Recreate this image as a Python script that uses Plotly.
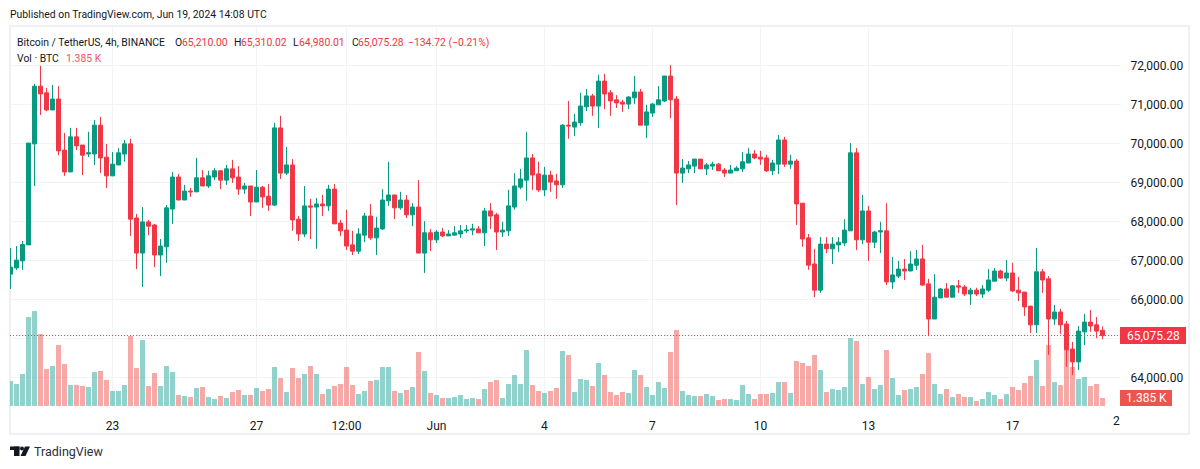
# Bitcoin / TetherUS 4h candles with volume, TradingView snapshot style
import plotly.graph_objects as go

# OHLC and volume, one value per 4h bar
opens = [66650, 66810, 66990, 67400, 69990, 71470, 71300, 70860, 71140, 69830,
         69270, 70170, 69960, 69730, 69730, 70470, 69650, 69170, 69450, 69730,
         69990, 68090, 67190, 67990, 67910, 67140, 67350, 68320, 69140, 68550,
         68780, 68760, 69120, 68910, 69140, 69300, 69060, 69350, 69140, 68830,
         68910, 68500, 68880, 68650, 68420, 70400, 69240, 69450, 68060, 67680,
         68400, 68370, 68450, 68400, 68830, 67960, 67780, 67400, 67240, 67650,
         68140, 67580, 67810, 68530, 68680, 68350, 68550, 68170, 68370, 67190,
         67710, 67530, 67730, 67630, 67650, 67680, 67760, 67780, 67810, 67710,
         68270, 68170, 67730, 67760, 68370, 68880, 69060, 69630, 69220, 68810,
         69190, 69040, 68940, 70470, 70420, 70530, 70940, 71220, 70960, 71600,
         71300, 71120, 71060, 71010, 71170, 71320, 70470, 70780, 70990, 71090,
         71730, 71140, 69240, 69350, 69420, 69600, 69350, 69420, 69470, 69320,
         69240, 69300, 69350, 69500, 69730, 69650, 69630, 69300, 69470, 70090,
         69470, 69550, 68470, 67580, 66910, 66240, 67420, 67300, 67400, 67450,
         67760, 69760, 67530, 68270, 67470, 67730, 67760, 66450, 66600, 66780,
         66730, 66880, 67040, 66400, 65500, 66040, 66270, 66060, 66350, 66320,
         66140, 66240, 66140, 66240, 66470, 66730, 66550, 66680, 66240, 66190,
         65830, 65350, 66710, 66530, 65500, 65680, 65370, 64730, 64400, 65170,
         65420, 65350, 65210.00]
highs = [67320, 67370, 67500, 70010, 71530, 71990, 71420, 71500, 71470, 70270,
         70400, 70400, 69960, 70300, 70600, 70680, 69990, 69780, 69880, 70090,
         70120, 68190, 68370, 68040, 67940, 67550, 68420, 69270, 69220, 68940,
         68860, 69630, 69320, 69300, 69370, 69300, 69450, 69580, 69420, 68990,
         68910, 69320, 68910, 68960, 70530, 70710, 69910, 69600, 68140, 68910,
         68580, 68600, 68680, 68940, 68960, 68040, 68300, 67760, 67830, 68220,
         68450, 68120, 68830, 69530, 68680, 68760, 68680, 68470, 69060, 68010,
         67810, 67780, 67830, 67780, 67880, 67910, 67910, 67940, 67880, 68350,
         68470, 68220, 67990, 68810, 69240, 69350, 70300, 69730, 69530, 69400,
         69300, 69220, 70500, 71090, 70760, 71300, 71400, 71270, 71760, 71780,
         71370, 71240, 71120, 71220, 71730, 71400, 70990, 71040, 71470, 71730,
         72010, 71220, 69600, 69550, 69600, 69600, 69500, 69530, 69500, 69370,
         69450, 69420, 69780, 69880, 69830, 69810, 69710, 69580, 70220, 70170,
         69710, 69600, 68470, 67680, 67300, 67600, 67600, 67600, 67600, 68060,
         70010, 69880, 68680, 68400, 67760, 67990, 68470, 67090, 66990, 67040,
         67240, 67270, 67400, 66530, 66650, 66300, 66420, 66370, 66500, 66370,
         66300, 66300, 66370, 66780, 66810, 66760, 67010, 66940, 66580, 66190,
         65830, 67320, 66780, 66600, 65860, 65760, 65450, 64910, 65320, 65630,
         65730, 65550, 65310.02]
lows = [66270, 66760, 66760, 67400, 68910, 70730, 70830, 70860, 69700, 69170,
        69270, 69830, 69190, 69650, 69450, 69240, 68860, 69170, 69450, 69530,
        67630, 66780, 66320, 67650, 66830, 66600, 66940, 67940, 68550, 68550,
        68630, 68760, 68910, 68860, 69060, 68830, 68940, 68990, 68680, 68710,
        68140, 68500, 68350, 68270, 68400, 69090, 69190, 67760, 67500, 67600,
        67550, 67300, 68140, 68270, 67940, 67630, 67270, 67140, 67170, 67470,
        67530, 67140, 67780, 68400, 68060, 68300, 68090, 67880, 67190, 66680,
        67240, 67450, 67600, 67630, 67650, 67580, 67710, 67650, 67710, 67370,
        67810, 67270, 67600, 67630, 68300, 68830, 68530, 68810, 68760, 68650,
        68760, 68580, 68860, 70120, 70190, 70450, 70830, 70710, 70400, 70880,
        70710, 70910, 70810, 70880, 71010, 70470, 70140, 70680, 70990, 71060,
        70650, 68420, 68990, 69240, 69240, 69350, 69190, 69320, 69300, 69140,
        69240, 69300, 69270, 69500, 69600, 69450, 69270, 69190, 69220, 69400,
        69350, 67910, 67350, 66760, 66060, 66170, 67190, 66910, 67220, 67370,
        67760, 67270, 67420, 66990, 67320, 67190, 66370, 66270, 66550, 66500,
        66730, 66760, 66350, 65060, 65500, 66040, 66060, 66060, 66170, 66090,
        65860, 66090, 66040, 66190, 66470, 66530, 66470, 66190, 65960, 65580,
        65140, 65140, 66170, 64580, 65350, 65120, 64270, 64060, 64190, 64830,
        65170, 65010, 64980.01]
closes = [66830, 67010, 67410, 70010, 71470, 71270, 70860, 71140, 69810, 69270,
          70170, 69940, 69700, 69760, 70470, 69630, 69170, 69470, 69760, 69990,
          68060, 67190, 67990, 67880, 67140, 67370, 68350, 69140, 68550, 68780,
          68760, 69120, 68910, 69170, 69300, 69060, 69350, 69120, 68830, 68910,
          68500, 68880, 68630, 68420, 70400, 69240, 69450, 68040, 67680, 68400,
          68370, 68450, 68400, 68830, 67940, 67760, 67370, 67240, 67680, 68140,
          67580, 67830, 68550, 68680, 68350, 68550, 68170, 68370, 67190, 67710,
          67530, 67730, 67630, 67680, 67710, 67760, 67780, 67810, 67710, 68270,
          68140, 67730, 67780, 68400, 68910, 69090, 69630, 69190, 68810, 69190,
          69010, 68940, 70470, 70450, 70550, 70960, 71220, 70960, 71600, 71270,
          71090, 71040, 71010, 71190, 71320, 70470, 70810, 71010, 71120, 71730,
          71120, 69240, 69370, 69450, 69600, 69350, 69450, 69470, 69300, 69240,
          69320, 69370, 69530, 69730, 69630, 69600, 69300, 69500, 70090, 69470,
          69550, 68450, 67550, 66880, 66240, 67420, 67300, 67420, 67470, 67780,
          69760, 67530, 68270, 67470, 67730, 67760, 66450, 66630, 66780, 66730,
          66910, 67040, 66370, 65500, 66060, 66270, 66060, 66350, 66320, 66140,
          66240, 66140, 66270, 66500, 66730, 66550, 66680, 66220, 66170, 65810,
          65350, 66710, 66500, 65500, 65680, 65350, 64710, 64400, 65190, 65420,
          65320, 65190, 65075.28]
volumes = [4330, 3810, 5540, 15410, 16440, 12460, 6400, 6920, 10560, 7270,
           3640, 3640, 3460, 3290, 5890, 6060, 4500, 2600, 2600, 3640,
           12120, 6580, 11420, 3460, 5710, 3460, 6920, 5890, 1900, 1730,
           1560, 3120, 3290, 1560, 1210, 1730, 1380, 2420, 2770, 1900,
           1900, 3120, 2600, 2940, 6750, 4850, 2420, 6580, 4850, 5540,
           6920, 5540, 2080, 2940, 3460, 3810, 6750, 3640, 2080, 2600,
           4330, 4500, 6750, 6750, 2600, 2250, 2770, 3290, 9350, 6060,
           2250, 1900, 1380, 1380, 1560, 1900, 1210, 1380, 1210, 2940,
           4150, 4500, 1380, 3810, 5370, 3810, 9690, 3640, 2600, 2250,
           2600, 3120, 9520, 8830, 2420, 4670, 4500, 3460, 7440, 5370,
           2420, 1900, 2420, 2250, 6230, 5370, 3290, 1900, 4150, 3120,
           9350, 13160, 2600, 1900, 1730, 1730, 2080, 1730, 1040, 1210,
           1210, 1040, 3640, 2080, 1210, 2080, 2080, 2250, 4150, 4150,
           2250, 7790, 7440, 6920, 8830, 6230, 2420, 2940, 2770, 3290,
           11770, 11250, 3810, 5020, 2940, 3640, 9690, 4850, 1900, 2770,
           2940, 3290, 5540, 9170, 3810, 2080, 2940, 1560, 2080, 1560,
           1560, 870, 1210, 2420, 1900, 1210, 2080, 3290, 2770, 3980,
           5190, 7960, 3460, 10560, 4150, 3640, 9690, 6750, 4670, 5020,
           3460, 3810, 1385]

# axis labels
time_ticks = [17, 41, 56, 71, 89, 107, 125, 143, 167]
time_labels = ["23", "27", "12:00", "Jun", "4", "7", "10", "13", "17"]
price_ticks = [64000, 65000, 66000, 67000, 68000, 69000, 70000, 71000, 72000]
price_labels = ["64,000.00", "", "66,000.00", "67,000.00", "68,000.00",
                "69,000.00", "70,000.00", "71,000.00", "72,000.00"]

W, H = 1200, 469
L, R, T, B = 10, 1120, 28, 406
FONT = "Roboto"
GREEN = "#089981"
RED = "#F23645"
INK = "#131722"
GRID = "#F2F3F6"
FRAME = "#EFEFF5"


# page pixels to paper coordinates
def px(x):
    return (x - L) / (R - L)


def py(y):
    return (B - y) / (B - T)


def box(x0, y0, x1, y1, color, layer="above"):
    return dict(type="rect", xref="paper", yref="paper", x0=px(x0), x1=px(x1),
                y0=py(y0), y1=py(y1), fillcolor=color, line_width=0, layer=layer)


# left aligned texts get a -1 shift to cancel the annotation padding
def label(x, y, text, color=INK, size=10.4, anchor="left", font=FONT):
    return dict(xref="paper", yref="paper", x=px(x - 1 if anchor == "left" else x), y=py(y),
                text=text, showarrow=False, xanchor=anchor, yanchor="middle", align=anchor,
                font=dict(family=font, size=size, color=color))


idx = list(range(len(closes)))
vol_colors = ["rgba(38,166,154,0.5)" if c >= o else "rgba(239,83,80,0.5)"
              for o, c in zip(opens, closes)]

fig = go.Figure()

# volume sits on the base axis so the candles draw over it
fig.add_trace(go.Bar(x=idx, y=volumes, marker=dict(color=vol_colors, line_width=0),
                     yaxis="y", showlegend=False))
fig.add_trace(go.Candlestick(x=idx, open=opens, high=highs, low=lows, close=closes,
                             yaxis="y2", showlegend=False, whiskerwidth=0,
                             increasing=dict(line=dict(color=GREEN, width=1), fillcolor=GREEN),
                             decreasing=dict(line=dict(color=RED, width=1), fillcolor=RED)))

shapes = [
    # outer frame
    box(9, 25, 11, 435, FRAME, "below"),
    box(1188, 25, 1190, 435, FRAME, "below"),
    box(9, 25, 1190, 27, FRAME, "below"),
    box(9, 433, 1190, 435, FRAME, "below"),
    # last price line and tags
    dict(type="line", xref="paper", yref="y2", x0=0, x1=1, y0=closes[-1], y1=closes[-1],
         line=dict(color=RED, width=1, dash="1px,2px")),
    box(1120, 327, 1186, 344, RED),
    box(1120, 390, 1172, 406, "#EF5350"),
    # logo
    box(10, 446.5, 19.5, 450, INK),
    box(14, 446.5, 19.5, 456, INK),
    dict(type="circle", xref="paper", yref="paper", x0=px(20), x1=px(24), y0=py(446.5), y1=py(450.5),
         fillcolor=INK, line_width=0),
    dict(type="path", xref="paper", yref="paper", fillcolor=INK, line_width=0,
         path=f"M {px(25)} {py(446.5)} L {px(30)} {py(446.5)} L {px(25.5)} {py(456)} L {px(20.5)} {py(456)} Z"),
]

annotations = [
    label(9, 15, "Published on TradingView.com, Jun 19, 2024 14:08 UTC"),
    label(16, 42, "Bitcoin / TetherUS, 4h, BINANCE"),
    label(174, 42, "O"), label(181, 42, "65,210.00", RED),
    label(233, 42, "H"), label(240, 42, "65,310.02", RED),
    label(292, 42, "L"), label(298, 42, "64,980.01", RED),
    label(351, 42, "C"), label(357, 42, "65,075.28", RED),
    label(407, 42, "\u2212134.72 (\u22120.21%)", RED),
    label(16, 59, "Vol \u00b7 BTC"),
    label(65, 59, "1.385 K", "#F7525F"),
    label(1153, 335.5, "65,075.28", "white", 12, "center"),
    label(1146, 398, "1.385 K", "white", 12, "center"),
    label(1116.5, 421, "2", INK, 12, "center"),
    label(33, 451, "TradingView", "#2A2E39", 12.5),
]

fig.update_layout(
    width=W, height=H,
    margin=dict(l=L, r=W - R, t=T, b=H - B, pad=0),
    paper_bgcolor="white", plot_bgcolor="white",
    bargap=0.17, boxgap=0.2, boxgroupgap=0.17,
    hovermode=False,
    showlegend=False,
    shapes=shapes, annotations=annotations,
    font=dict(family=FONT, size=12, color=INK),
    xaxis=dict(range=[-0.083, 184.92], rangeslider=dict(visible=False),
               tickmode="array", tickvals=time_ticks, ticktext=time_labels,
               showgrid=True, gridcolor=GRID, gridwidth=1, zeroline=False,
               showline=False, ticks="outside", ticklen=9, tickcolor="white",
               tickfont=dict(family=FONT, size=12, color=INK)),
    yaxis=dict(range=[0, 65432], showgrid=False, zeroline=False, showticklabels=False, ticks=""),
    yaxis2=dict(range=[63269, 72961], overlaying="y", side="right",
                tickmode="array", tickvals=price_ticks, ticktext=price_labels,
                showgrid=True, gridcolor=GRID, gridwidth=1, zeroline=False,
                showline=False, ticks="outside", ticklen=7, tickcolor="white",
                tickfont=dict(family=FONT, size=12, color=INK)),
)

fig.write_html("out.html", config=dict(displayModeBar=False),
               post_script="document.body.style.margin='0';")
